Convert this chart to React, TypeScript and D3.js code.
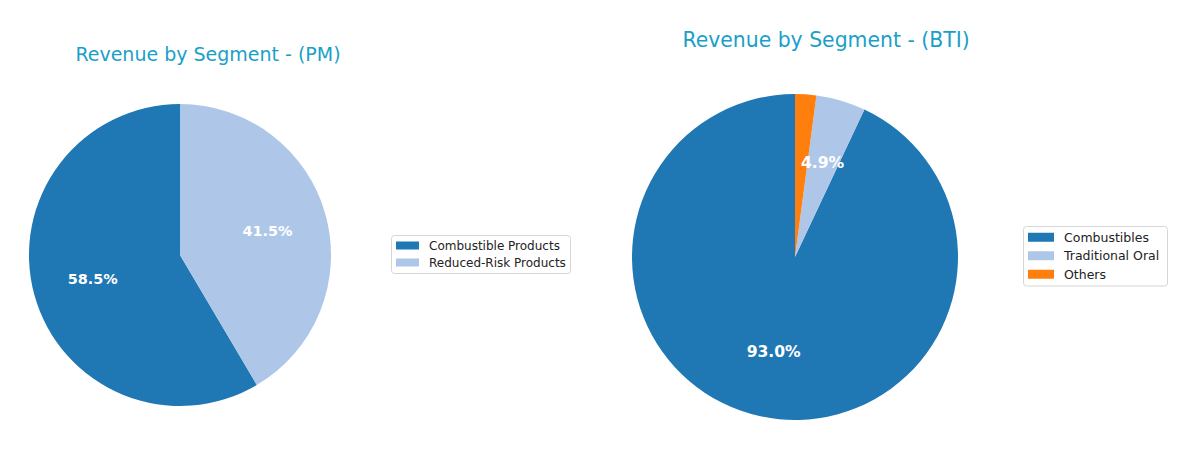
import * as d3 from 'd3';
import React from 'react';

const pmSegments: string[] = ['Combustible Products', 'Reduced-Risk Products'];
const pmValues: number[] = [58.5, 41.5];

const btiSegments: string[] = ['Combustibles', 'Traditional Oral', 'Others'];
const btiValues: number[] = [93.0, 4.9, 2.1];

const segmentColors: string[] = ['#1f77b4', '#aec7e8', '#ff7f0e'];

const TITLE_COLOR = '#1a9fc8';
const FONT = '"DejaVu Sans", Verdana, sans-serif';

interface IPieProps {
  title: string;
  names: string[];
  values: number[];
  cx: number;
  cy: number;
  radius: number;
  titleX: number;
  titleY: number;
  titleSize: number;
  labelSize: number;
  legendX: number;
  legendY: number;
  legendFont: number;
  rowGap: number;
  handleW: number;
  handleH: number;
  legendW: number;
}

function SegmentPie(p: IPieProps) {
  const total = d3.sum(p.values);
  // matplotlib style: start at 12 o'clock, go counter-clockwise
  const pie = d3
    .pie<number>()
    .sort(null)
    .startAngle(0)
    .endAngle(-2 * Math.PI);
  const arcs = pie(p.values);

  const arc = d3.arc<d3.PieArcDatum<number>>().innerRadius(0).outerRadius(p.radius);
  const labelArc = d3
    .arc<d3.PieArcDatum<number>>()
    .innerRadius(p.radius * 0.6)
    .outerRadius(p.radius * 0.6);

  const legendH = p.rowGap * p.names.length + 4;

  return (
    <g>
      <text
        x={p.titleX}
        y={p.titleY}
        textAnchor="middle"
        fill={TITLE_COLOR}
        fontSize={p.titleSize}
        fontFamily={FONT}
      >
        {p.title}
      </text>
      <g transform={`translate(${p.cx}, ${p.cy})`}>
        {arcs.map((a, i) => (
          <path key={i} d={arc(a) ?? ''} fill={segmentColors[i]} />
        ))}
        {arcs.map((a, i) => {
          const pct = (a.data / total) * 100;
          if (pct < 3) return null;
          const [x, y] = labelArc.centroid(a);
          return (
            <text
              key={i}
              x={x}
              y={y}
              textAnchor="middle"
              dominantBaseline="central"
              fill="white"
              fontWeight="bold"
              fontSize={p.labelSize}
              fontFamily={FONT}
            >
              {pct.toFixed(1)}%
            </text>
          );
        })}
      </g>
      <g transform={`translate(${p.legendX}, ${p.legendY})`}>
        <rect
          x={0.5}
          y={0.5}
          width={p.legendW}
          height={legendH}
          rx={3}
          fill="white"
          fillOpacity={0.8}
          stroke="#d6d6d6"
        />
        {p.names.map((n, i) => {
          const rowY = 2 + p.rowGap * i + p.rowGap / 2;
          return (
            <g key={n}>
              <rect
                x={5}
                y={rowY - p.handleH / 2}
                width={p.handleW}
                height={p.handleH}
                fill={segmentColors[i]}
              />
              <text
                x={5 + p.handleW + 10}
                y={rowY}
                dominantBaseline="central"
                fontSize={p.legendFont}
                fontFamily={FONT}
                fill="#222"
              >
                {n}
              </text>
            </g>
          );
        })}
      </g>
    </g>
  );
}

export default function App() {
  return (
    <svg
      width={1200}
      height={452}
      style={{ position: 'absolute', left: 0, top: 0, background: 'white' }}
    >
      <SegmentPie
        title="Revenue by Segment - (PM)"
        names={pmSegments}
        values={pmValues}
        cx={180}
        cy={255}
        radius={151}
        titleX={208}
        titleY={61}
        titleSize={19}
        labelSize={14.4}
        legendX={391}
        legendY={235}
        legendFont={12}
        rowGap={17}
        handleW={23}
        handleH={8}
        legendW={179}
      />
      <SegmentPie
        title="Revenue by Segment - (BTI)"
        names={btiSegments}
        values={btiValues}
        cx={795}
        cy={257}
        radius={163}
        titleX={826}
        titleY={47}
        titleSize={20.4}
        labelSize={15.6}
        legendX={1023}
        legendY={226}
        legendFont={12.5}
        rowGap={18.5}
        handleW={26}
        handleH={9}
        legendW={144}
      />
    </svg>
  );
}
